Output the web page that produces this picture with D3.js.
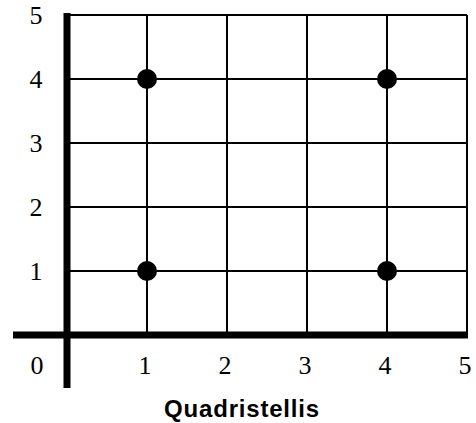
<!DOCTYPE html>
<html lang="en">
<meta charset="utf-8">
<style>
body { margin: 0; background: #fff; }
.grid { stroke: #000; stroke-width: 2px; }
.axis { stroke: #000; stroke-width: 7px; }
.tick { font-family: "Liberation Serif", "Times New Roman", serif; font-size: 26px; }
.title { font-family: "Liberation Sans", Arial, sans-serif; font-weight: bold; font-size: 24px; letter-spacing: 0.8px; }
</style>
<body>
<script src="https://d3js.org/d3.v7.min.js"></script>
<script>
// data
var gridValues = [1, 2, 3, 4, 5];
var tickLabels = ["0", "1", "2", "3", "4", "5"];
var pointsX = [1, 1, 4, 4];
var pointsY = [1, 4, 1, 4];
var title = "Quadristellis";

var width = 476, height = 423;

var x = d3.scaleLinear().domain([0, 5]).range([67, 467]);
var y = d3.scaleLinear().domain([0, 5]).range([335, 15]);

var svg = d3.select("body").append("svg")
    .attr("width", width)
    .attr("height", height);

// grid lines
svg.selectAll(".vgrid").data(gridValues).enter().append("line")
    .attr("class", "grid")
    .attr("x1", function(d) { return x(d); })
    .attr("x2", function(d) { return x(d); })
    .attr("y1", y(0))
    .attr("y2", y(5));

svg.selectAll(".hgrid").data(gridValues).enter().append("line")
    .attr("class", "grid")
    .attr("x1", x(0))
    .attr("x2", x(5))
    .attr("y1", function(d) { return y(d); })
    .attr("y2", function(d) { return y(d); });

// thick axes
svg.append("line")
    .attr("class", "axis")
    .attr("x1", x(-0.675))
    .attr("x2", x(5) + 1)
    .attr("y1", y(0))
    .attr("y2", y(0));

svg.append("line")
    .attr("class", "axis")
    .attr("x1", x(0))
    .attr("x2", x(0))
    .attr("y1", y(5) - 2)
    .attr("y2", y(-0.83));

// tick labels
svg.selectAll(".ylab").data(tickLabels.slice(1)).enter().append("text")
    .attr("class", "tick")
    .attr("x", 36)
    .attr("y", function(d) { return y(+d); })
    .attr("dy", "0.33em")
    .attr("text-anchor", "middle")
    .text(function(d) { return d; });

svg.selectAll(".xlab").data(tickLabels).enter().append("text")
    .attr("class", "tick")
    .attr("x", function(d) { return +d === 0 ? 37 : x(+d) - 2; })
    .attr("y", 365)
    .attr("dy", "0.33em")
    .attr("text-anchor", "middle")
    .text(function(d) { return d; });

// points
svg.selectAll(".pt").data(pointsX).enter().append("circle")
    .attr("cx", function(d) { return x(d); })
    .attr("cy", function(d, i) { return y(pointsY[i]); })
    .attr("r", 10)
    .attr("fill", "#000");

// title
svg.append("text")
    .attr("class", "title")
    .attr("x", 242)
    .attr("y", 417)
    .attr("text-anchor", "middle")
    .text(title);
</script>
</body>
</html>
